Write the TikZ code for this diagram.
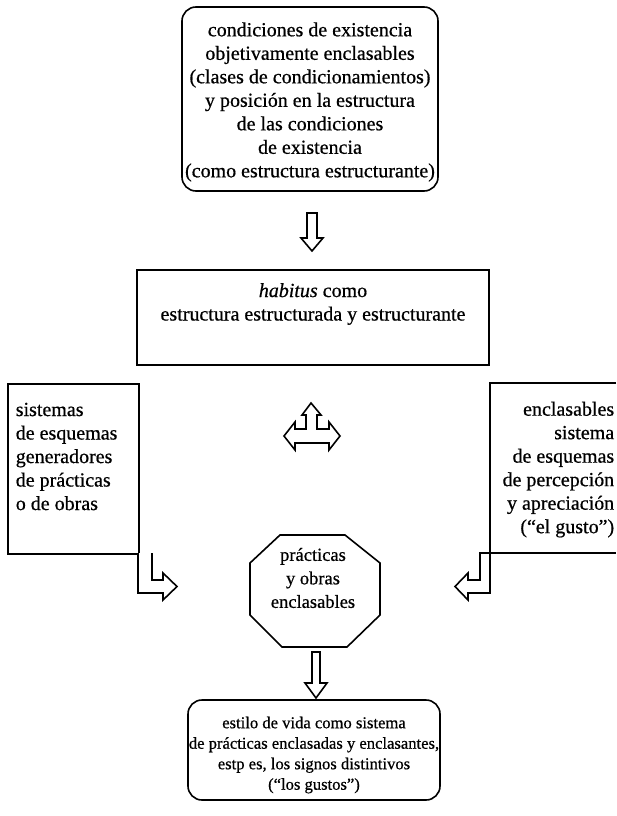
\documentclass[tikz,border=0pt]{standalone}
\usepackage{fontspec}
\setmainfont{Liberation Serif}[FakeBold=0.6]
\begin{document}
\begin{tikzpicture}[x=1pt,y=-1pt,
  line width=1.6pt,
  boxline/.style={draw=black, line width=1.6pt},
  txt/.style={inner sep=0pt, font=\fontsize{20}{23.5}\selectfont},
  blockarrow/.style={draw=black, line width=1.6pt, fill=white, line join=miter}]
\useasboundingbox (0,0) rectangle (616,816);
\fill[white] (0,0) rectangle (616,816);

% top box
\node[boxline, rounded corners=14pt, minimum width=256pt, minimum height=184pt] (cond) at (310,99) {};
\node[txt, align=center] (condt) at (310,102) {condiciones de existencia\\objetivamente enclasables\\(clases de condicionamientos)\\y posición en la estructura\\de las condiciones\\de existencia\\(como estructura estructurante)};

% arrow top -> habitus
\draw[blockarrow] (307,213) -- (317,213) -- (317,238) -- (323,238) -- (312,251) -- (301,238) -- (307,238) -- cycle;

% habitus box
\node[boxline, minimum width=352pt, minimum height=95pt] (hab) at (313,317.5) {};
\node[txt, align=center] (habt) at (313,304) {\textit{habitus} como\\estructura estructurada y estructurante};

% left box
\node[boxline, anchor=north west, minimum width=131pt, minimum height=170pt] (leftbox) at (7,383) {};
\node[txt, align=left, anchor=north west] (leftt) at (15,402) {sistemas\\de esquemas\\generadores\\de prácticas\\o de obras};

% right box (cut by page edge)
\coordinate (rtop) at (616,383);
\coordinate (rbot) at (616,553);
\draw[boxline] (rtop) -- (490,383) -- (490,553) -- (rbot);
\node[txt, align=right, anchor=north east] (rightt) at (615,401) {enclasables\\sistema\\de esquemas\\de percepción\\y apreciación\\(“el gusto”)};

% triple arrow
\draw[blockarrow] (306,429) -- (306,415) -- (302,415) -- (311,403) -- (321,415) -- (317,415) -- (317,429)
  -- (329,429) -- (329,422) -- (340,436) -- (329,450) -- (329,443) -- (295,443) -- (295,450) -- (284,436) -- (295,422) -- (295,429) -- cycle;

% bent arrows
\draw[blockarrow] (138,553) -- (138,593) -- (163,593) -- (163,600) -- (177,586.5) -- (163,573) -- (163,580) -- (152,580) -- (152,553);
\draw[blockarrow] (490,553) -- (490,593) -- (468,593) -- (468,600) -- (455,586.5) -- (468,573) -- (468,580) -- (480,580) -- (480,553) -- (490,553);

% octagon
\draw[boxline] (280,535) -- (345,535) -- (380,563) -- (380,615) -- (347,647) -- (282,647) -- (250,615) -- (250,563) -- cycle;
\node[inner sep=0pt, align=center, font=\fontsize{18.5}{23.5}\selectfont] (oct) at (313,578) {prácticas\\y obras\\enclasables};

% arrow octagon -> bottom
\draw[blockarrow] (312,652) -- (320,652) -- (320,683) -- (327,683) -- (316,698) -- (305,683) -- (312,683) -- cycle;

% bottom box
\node[boxline, rounded corners=14pt, minimum width=252pt, minimum height=100pt] (estilo) at (314,750) {};
\node[inner sep=0pt, align=center, font=\fontsize{16.6}{20.5}\selectfont] (estilot) at (314,755) {estilo de vida como sistema\\de prácticas enclasadas y enclasantes,\\estp es, los signos distintivos\\(“los gustos”)};
\end{tikzpicture}
\end{document}
